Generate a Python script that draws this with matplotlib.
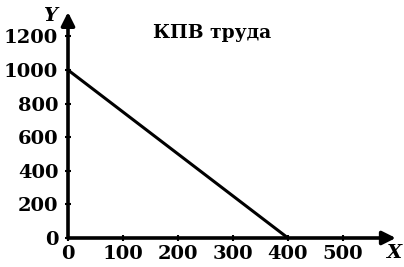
import matplotlib.pyplot as plt

# данные КПВ труда
x_vals = [0, 400]
y_vals = [1000, 0]
x_ticks = [0, 100, 200, 300, 400, 500]
y_ticks = [0, 200, 400, 600, 800, 1000, 1200]

W, H = 404, 267
fig = plt.figure(figsize=(W / 100, H / 100), dpi=100)
# оси: 0 по x в пикселе 68, 0 по y в пикселе 238 (сверху)
ax = fig.add_axes([68 / W, 29 / H, 330 / W, 226.8 / H])
ax.set_xlim(0, 600)
ax.set_ylim(0, 1350)

for s in ax.spines.values():
    s.set_visible(False)

# стрелки осей
arrow = dict(arrowstyle='-|>', color='black', lw=2.6, mutation_scale=20,
             shrinkA=0, shrinkB=0)
ax.annotate('', xy=(596, 0), xytext=(0, 0), arrowprops=arrow, annotation_clip=False)
ax.annotate('', xy=(0, 1345), xytext=(0, 0), arrowprops=arrow, annotation_clip=False)

# линия КПВ
ax.plot(x_vals, y_vals, color='black', lw=2.2, solid_capstyle='butt')

font = {'family': 'DejaVu Serif', 'weight': 'bold', 'size': 14}
ax.set_xticks(x_ticks)
ax.set_yticks(y_ticks)
ax.set_xticklabels([str(v) for v in x_ticks], fontdict=font)
ax.set_yticklabels([str(v) for v in y_ticks], fontdict=font)
ax.tick_params(direction='inout', length=4, width=1.5)
ax.tick_params(axis='y', pad=5)
ax.tick_params(axis='x', pad=3)

ax.text(-33, 1320, 'Y', fontsize=14, fontstyle='italic', fontweight='semibold',
        family='DejaVu Serif', ha='center', va='center', clip_on=False)
ax.text(592, -92, 'X', fontsize=14, fontstyle='italic', fontweight='semibold',
        family='DejaVu Serif', ha='center', va='center', clip_on=False)
ax.text(262, 1220, 'КПВ труда', fontsize=13.5, fontweight='bold',
        family='DejaVu Serif', ha='center', va='center')

fig.savefig('out.png', dpi=100)
